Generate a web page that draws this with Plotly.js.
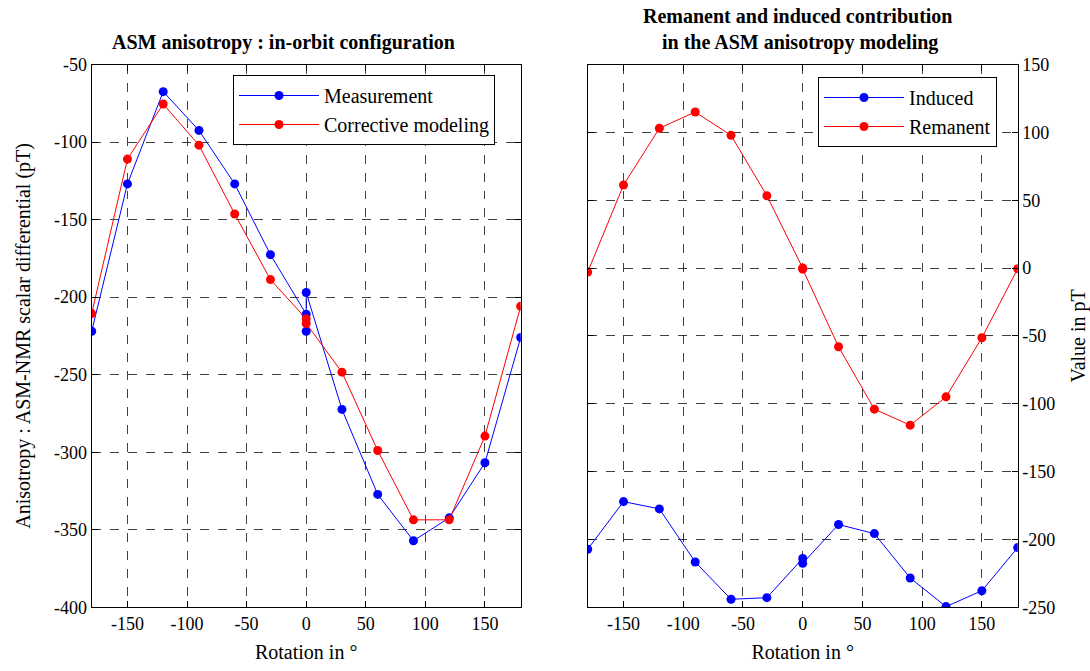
<!DOCTYPE html>
<html>
<head>
<meta charset="utf-8">
<script src="https://cdn.plot.ly/plotly-3.0.1.min.js"></script>
<style>html,body{margin:0;padding:0;background:#fff;}#chart{width:1090px;height:671px;}</style>
</head>
<body>
<div id="chart"></div>
<script>
// Left chart: ASM anisotropy
const measX = [-180, -150, -120, -90, -60, -30, 0, 0, 0, 30, 60, 90, 120, 150, 180];
const measY = [-222, -127, -67.5, -92.5, -127, -172.6, -211, -222, -197, -272.4, -327.2, -357.1, -342.3, -306.8, -226];
const corrX = [-180, -150, -120, -90, -60, -30, 0, 0, 30, 60, 90, 120, 150, 180];
const corrY = [-210.6, -111, -75.5, -102, -146.4, -188.7, -214, -217, -248.4, -298.9, -343.6, -343.6, -289.6, -205.9];

// Right chart: Remanent and induced contribution
const indX = [-180, -150, -120, -90, -60, -30, 0, 0, 30, 60, 90, 120, 150, 180];
const indY = [-207.2, -172.1, -177.5, -216.6, -244.1, -242.9, -214, -217.6, -189, -195.7, -228.4, -249.5, -237.8, -206];
const remX = [-180, -150, -120, -90, -60, -30, 0, 0, 30, 60, 90, 120, 150, 180];
const remY = [-3, 61.2, 103, 115, 97.8, 53.3, 0, -0.8, -58, -104, -115.8, -94.9, -51.4, -0.5];

const xTicks = [-150, -100, -50, 0, 50, 100, 150];
const yTicksLeft = [-400, -350, -300, -250, -200, -150, -100, -50];
const yTicksRight = [-250, -200, -150, -100, -50, 0, 50, 100, 150];

const FONT = '"Liberation Serif", "Times New Roman", serif';
const BLUE = '#0000ff', RED = '#ff0000';

function tr(x, y, name, color, xa, ya, leg) {
  return {x: x, y: y, name: name, type: 'scatter', mode: 'lines+markers',
    xaxis: xa, yaxis: ya, legend: leg,
    line: {color: color, width: 1},
    marker: {color: color, size: 9}};
}

const data = [
  tr(measX, measY, 'Measurement', BLUE, 'x', 'y', 'legend'),
  tr(corrX, corrY, 'Corrective modeling', RED, 'x', 'y', 'legend'),
  tr(indX, indY, 'Induced', BLUE, 'x2', 'y2', 'legend2'),
  tr(remX, remY, 'Remanent', RED, 'x2', 'y2', 'legend2')
];

const lbl = v => String(v);
const axBase = {
  showline: true, linecolor: '#000', linewidth: 1, mirror: 'allticks',
  ticks: 'inside', ticklen: 6, tickcolor: '#000',
  showgrid: true, gridcolor: 'rgba(0,0,0,0.75)', griddash: 'dash', gridwidth: 1,
  zeroline: false, tickfont: {family: FONT, size: 18, color: '#000'}
};
const titleFont = {family: FONT, size: 20, color: '#000'};
const yDom = [1 - 607.3 / 671, 1 - 64.5 / 671];

const layout = {
  width: 1090, height: 671,
  margin: {l: 0, r: 0, t: 0, b: 0},
  paper_bgcolor: '#fff', plot_bgcolor: '#fff',
  font: {family: FONT, color: '#000'},
  showlegend: true,
  xaxis: Object.assign({}, axBase, {domain: [91.7 / 1090, 520.7 / 1090], range: [-180, 180],
    tickvals: xTicks, ticktext: xTicks.map(lbl), anchor: 'y',
    title: {text: 'Rotation in °', font: titleFont, standoff: 12}}),
  yaxis: Object.assign({}, axBase, {domain: yDom, range: [-400, -50],
    tickvals: yTicksLeft, ticktext: yTicksLeft.map(lbl), anchor: 'x',
    title: {text: 'Anisotropy : ASM-NMR scalar differential (pT)', font: titleFont, standoff: 18}}),
  xaxis2: Object.assign({}, axBase, {domain: [587.7 / 1090, 1017.7 / 1090], range: [-180, 180],
    tickvals: xTicks, ticktext: xTicks.map(lbl), anchor: 'y2',
    title: {text: 'Rotation in °', font: titleFont, standoff: 12}}),
  yaxis2: Object.assign({}, axBase, {domain: yDom, range: [-250, 150],
    tickvals: yTicksRight, ticktext: yTicksRight.map(lbl), anchor: 'x2',
    side: 'right',
    title: {text: 'Value in pT', font: titleFont, standoff: 16}}),
  legend: {x: 233 / 1090, y: 1 - 75 / 671, xanchor: 'left', yanchor: 'top',
    bgcolor: '#fff', bordercolor: '#000', borderwidth: 1, itemwidth: 80,
    font: {family: FONT, size: 20, color: '#000'}, tracegroupgap: 0},
  legend2: {x: 818 / 1090, y: 1 - 77 / 671, xanchor: 'left', yanchor: 'top',
    bgcolor: '#fff', bordercolor: '#000', borderwidth: 1, itemwidth: 80,
    font: {family: FONT, size: 20, color: '#000'}, tracegroupgap: 0},
  annotations: [
    {text: '<b>ASM anisotropy : in-orbit configuration</b>', xref: 'paper', yref: 'paper',
     x: 283 / 1090, y: 1 - 42 / 671, xanchor: 'center', yanchor: 'middle', showarrow: false,
     font: {family: FONT, size: 20, color: '#000'}},
    {text: '<b>Remanent and induced contribution</b>', xref: 'paper', yref: 'paper',
     x: 798 / 1090, y: 1 - 16 / 671, xanchor: 'center', yanchor: 'middle', showarrow: false,
     font: {family: FONT, size: 20, color: '#000'}},
    {text: '<b>in the ASM anisotropy modeling</b>', xref: 'paper', yref: 'paper',
     x: 800 / 1090, y: 1 - 43 / 671, xanchor: 'center', yanchor: 'middle', showarrow: false,
     font: {family: FONT, size: 20, color: '#000'}}
  ]
};

Plotly.newPlot('chart', data, layout, {displayModeBar: false, staticPlot: true});
</script>
</body>
</html>
